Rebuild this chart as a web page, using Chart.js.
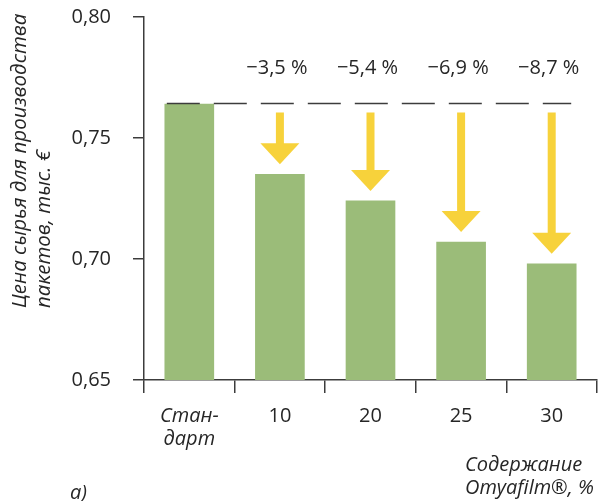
<!DOCTYPE html>
<html>
<head>
<meta charset="utf-8">
<script src="https://cdn.jsdelivr.net/npm/chart.js@4.4.1/dist/chart.umd.min.js"></script>
<style>
  html, body { margin: 0; padding: 0; background: #fff; }
</style>
</head>
<body>
<canvas id="priceChart" width="600" height="501"></canvas>
<script>
// Стоимость сырья при разном содержании Omyafilm
const categories = [['Стан-', 'дарт'], '10', '20', '25', '30']
const prices = [0.764, 0.735, 0.724, 0.707, 0.698]
const savings = ['', '−3,5 %', '−5,4 %', '−6,9 %', '−8,7 %']
const yTicks = [0.65, 0.70, 0.75, 0.80]
const yTitle = ['Цена сырья для производства', 'пакетов, тыс. €']
const xTitle = ['Содержание', 'Omyafilm®, %']
const panelLabel = 'а)'

const FONT = '"Open Sans", "DejaVu Sans", sans-serif'
const INK = '#262626'
const AXIS = '#3c3c3c'

// пунктир от стандартного уровня, стрелки и проценты экономии
const overlay = {
    id: 'overlay',
    afterDatasetsDraw(chart) {
        const { ctx, scales: { y } } = chart
        const bars = chart.getDatasetMeta(0).data
        const baseY = Math.round(y.getPixelForValue(prices[0])) - 0.5
        const first = bars[0]
        const last = bars[bars.length - 1]

        ctx.save()
        ctx.strokeStyle = AXIS
        ctx.lineWidth = 1.5
        ctx.setLineDash([33, 14])
        ctx.beginPath()
        ctx.moveTo(first.x - first.width / 2 + 2, baseY)
        ctx.lineTo(last.x + last.width / 2 - 5, baseY)
        ctx.stroke()
        ctx.setLineDash([])

        ctx.fillStyle = '#f7d23b'
        for (let i = 1; i < bars.length; i++) {
            const cx = bars[i].x
            const top = baseY + 9
            const tip = y.getPixelForValue(prices[i]) - 10
            const headTop = tip - 21
            ctx.fillRect(cx - 4, top, 8, headTop - top + 1)
            ctx.beginPath()
            ctx.moveTo(cx - 19.5, headTop)
            ctx.lineTo(cx + 19.5, headTop)
            ctx.lineTo(cx, tip)
            ctx.closePath()
            ctx.fill()
        }

        ctx.fillStyle = INK
        ctx.font = `20px ${FONT}`
        ctx.textAlign = 'center'
        ctx.textBaseline = 'middle'
        for (let i = 1; i < bars.length; i++) {
            ctx.fillText(savings[i], bars[i].x - 3, baseY - 35)
        }
        ctx.restore()
    },
    afterDraw(chart) {
        const { ctx } = chart
        ctx.save()
        ctx.fillStyle = INK
        ctx.font = `italic 20.5px ${FONT}`
        ctx.textBaseline = 'middle'
        ctx.textAlign = 'left'

        // подпись оси Y, две строки
        yTitle.forEach((line, i) => {
            ctx.save()
            ctx.translate(20 + i * 24, 308)
            ctx.rotate(-Math.PI / 2)
            ctx.fillText(line, 0, 0)
            ctx.restore()
        })

        // подпись оси X справа внизу
        ctx.font = `italic 20px ${FONT}`
        xTitle.forEach((line, i) => {
            ctx.fillText(line, 465, 465 + i * 23)
        })

        ctx.fillText(panelLabel, 70, 493)
        ctx.restore()
    }
}

const ctx = document.getElementById('priceChart').getContext('2d')
let chart = new Chart(ctx, {
    type: 'bar',
    data: {
        labels: categories,
        datasets: [
            {
                data: prices,
                backgroundColor: '#9bbc79',
                borderWidth: 0,
                barThickness: 49,
            },
        ],
    },
    options: {
        responsive: false,
        animation: false,
        layout: {
            padding: { top: 17, right: 3, left: 0, bottom: 0 },
        },
        plugins: {
            legend: { display: false },
            tooltip: { enabled: false },
        },
        scales: {
            x: {
                afterFit(scale) {
                    scale.height = 121
                    scale.paddingLeft = 0
                    scale.paddingRight = 0
                },
                grid: {
                    offset: true,
                    drawOnChartArea: false,
                    tickLength: 13,
                    color: AXIS,
                    lineWidth: 1.5,
                },
                border: { color: AXIS, width: 1.5 },
                ticks: {
                    padding: 12,
                    color: INK,
                    font: (c) => ({
                        family: FONT,
                        size: 20,
                        style: c.index === 0 ? 'italic' : 'normal',
                        lineHeight: 1.15,
                    }),
                },
            },
            y: {
                min: 0.65,
                max: 0.80,
                afterFit(scale) {
                    scale.width = 144
                    scale.paddingTop = 0
                    scale.paddingBottom = 0
                },
                afterBuildTicks(scale) {
                    scale.ticks = yTicks.map(v => ({ value: v }))
                },
                grid: {
                    drawOnChartArea: false,
                    tickLength: 11,
                    color: AXIS,
                    lineWidth: 1.5,
                },
                border: { color: AXIS, width: 1.5 },
                ticks: {
                    padding: 22,
                    color: INK,
                    font: { family: FONT, size: 20 },
                    callback: (v) => v.toFixed(2).replace('.', ','),
                },
            },
        },
    },
    plugins: [overlay],
})
</script>
</body>
</html>
